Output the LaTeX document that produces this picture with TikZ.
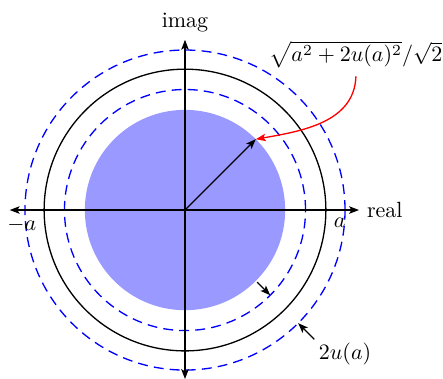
\documentclass[tikz,border=0pt]{standalone}
\usepackage{amsmath,amssymb}
\usepackage{xcolor}
\usepackage{tikz}
\usetikzlibrary{arrows.meta,positioning,calc}

\tikzset{
	>={Stealth[length=4.5pt, width=3.4pt, inset=1pt]},
	bound/.style={blue, semithick, dash pattern=on 4.5pt off 2.8pt},
	pointer/.style={->, semithick}
}

\begin{document}
\begin{tikzpicture}[semithick]
		\useasboundingbox (-2.955,-2.684) rectangle (4.121,3.355);

		\fill[blue!40] (0,0) circle (1.6);
		\draw (0,0) circle (2.25);
		\draw[bound] (0,0) circle (1.925);
		\draw[bound] (0,0) circle (2.556);

		\coordinate (O) at (0,0);
		\coordinate (xl) at (-2.8,0);
		\coordinate (xr) at (2.78,0);
		\coordinate (yb) at (0,-2.7);
		\coordinate (yt) at (0,2.72);

		\draw[->] (O) -- (xl);
		\draw[->] (O) -- (xr);
		\draw[->] (O) -- (yb);
		\draw[->] (O) -- (yt);
		\node[right] (real) at (xr) {real};
		\node[above] (imag) at (yt) {imag};

		\coordinate (pa) at (2.25,0);
		\coordinate (ma) at (-2.25,0);
		\node[below right] (alab) at (pa) {$a$};
		\node[below left] (malab) at (ma) {$-a$};

		% radius of the disc
		\coordinate (edge) at (45:1.6);
		\draw[->] (O) -- (edge);
		\node (rlab) at (2.73,2.48) {$\sqrt{a^2+2u(a)^2}/\sqrt{2}$};
		\draw[->, red] (rlab.south) to[out=-92, in=10] (edge);

		% width of the band
		\coordinate (in1) at (-45:1.63);
		\coordinate (in2) at (-45:1.925);
		\coordinate (out1) at (-45:2.92);
		\coordinate (out2) at (-45:2.556);
		\draw[pointer] (in1) -- (in2);
		\draw[pointer] (out1) -- (out2);
		\node (ulab) at (2.556,-2.3) {$2u(a)$};
	\end{tikzpicture}
\end{document}
